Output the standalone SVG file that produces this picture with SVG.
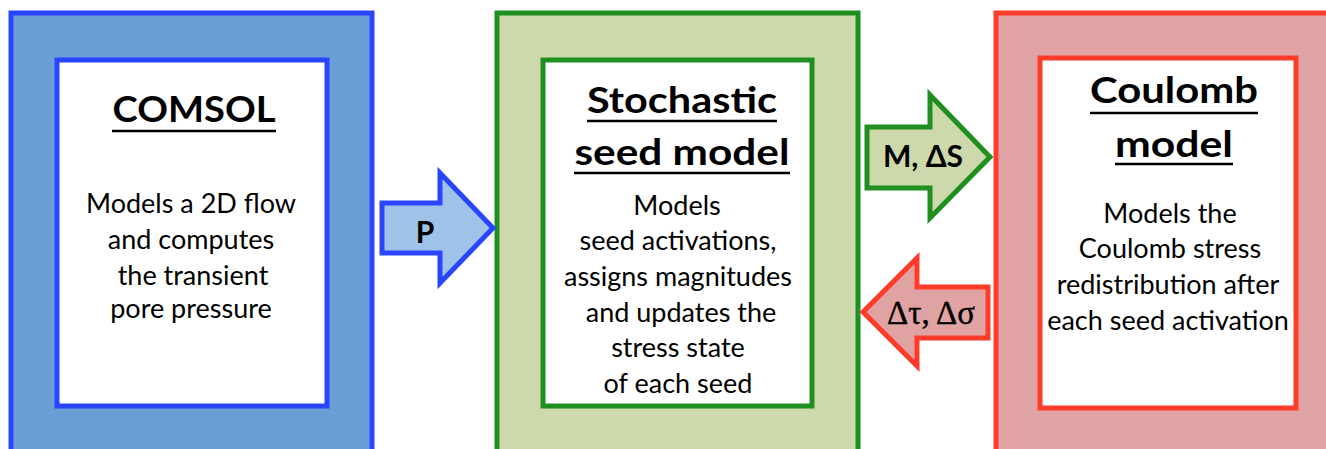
<svg xmlns="http://www.w3.org/2000/svg" width="1326" height="449" viewBox="0 0 1326 449">
<style>
.title{font-family:Lato,"Open Sans",sans-serif;font-weight:bold;font-size:37px;fill:#000;text-anchor:middle}
.body{font-family:Lato,"Open Sans",sans-serif;font-size:27px;fill:#000;text-anchor:middle}
.lbl{font-family:Lato,"Open Sans",sans-serif;font-weight:bold;font-size:30px;fill:#000;text-anchor:middle}
.greek{font-family:"Liberation Serif","DejaVu Serif",serif;font-size:33px;fill:#000;text-anchor:middle;stroke:#000;stroke-width:0.4}
.ul{stroke:#000;stroke-width:2.5}
.inner{fill:#fff;stroke-width:5}
.outer{stroke-width:5}
</style>
<rect width="1326" height="449" fill="#fff"/>
<g id="comsol">
<rect class="outer" x="11" y="13" width="361" height="450" fill="#6a9fd6" stroke="#2a45ff"/>
<rect class="inner" x="57" y="60" width="270" height="346" stroke="#2a45ff"/>
<text class="title" x="194" y="122" textLength="163" lengthAdjust="spacingAndGlyphs">COMSOL</text>
<line class="ul" x1="112" y1="131" x2="276" y2="131"/>
<text class="body" x="191" y="213">Models a 2D flow</text>
<text class="body" x="191" y="249">and computes</text>
<text class="body" x="193" y="285">the transient</text>
<text class="body" x="191" y="318">pore pressure</text>
</g>
<g id="stochastic">
<rect class="outer" x="497" y="13" width="361" height="450" fill="#cdd9ab" stroke="#1f8f1f"/>
<rect class="inner" x="543" y="60" width="269" height="346" stroke="#1f8f1f"/>
<text class="title" x="682" y="113" textLength="190" lengthAdjust="spacingAndGlyphs">Stochastic</text>
<line class="ul" x1="587" y1="121" x2="777" y2="121"/>
<text class="title" x="682" y="165" textLength="215" lengthAdjust="spacingAndGlyphs">seed model</text>
<line class="ul" x1="574" y1="173" x2="790" y2="173"/>
<text class="body" x="677" y="215">Models</text>
<text class="body" x="678" y="250">seed activations,</text>
<text class="body" x="678" y="286">assigns magnitudes</text>
<text class="body" x="681" y="322">and updates the</text>
<text class="body" x="678" y="357">stress state</text>
<text class="body" x="678" y="393">of each seed</text>
</g>
<g id="coulomb">
<rect class="outer" x="996" y="13" width="340" height="450" fill="#dfa3a3" stroke="#ff3b2a"/>
<rect class="inner" x="1040" y="58" width="256" height="350" stroke="#ff3b2a"/>
<text class="title" x="1174" y="103" textLength="168" lengthAdjust="spacingAndGlyphs">Coulomb</text>
<line class="ul" x1="1090" y1="113" x2="1258" y2="113"/>
<text class="title" x="1174" y="157" textLength="118" lengthAdjust="spacingAndGlyphs">model</text>
<line class="ul" x1="1115" y1="164" x2="1233" y2="164"/>
<text class="body" x="1170" y="223">Models the</text>
<text class="body" x="1170" y="258">Coulomb stress</text>
<text class="body" x="1168" y="294">redistribution after</text>
<text class="body" x="1168" y="330">each seed activation</text>
</g>
<g id="connectors">
<g id="arrow-p">
<polygon points="382,203 440,203 440,173 493,228 440,283 440,253 382,253" fill="#9fc3e8" stroke="#2a45ff" stroke-width="5" stroke-linejoin="miter"/>
<text class="lbl" x="425" y="243">P</text>
</g>
<g id="arrow-ms">
<polygon points="867,127 930,127 930,95 990,157 930,218 930,188 867,188" fill="#cdd9ab" stroke="#1f8f1f" stroke-width="5"/>
<text class="lbl" x="923" y="167">M, ΔS</text>
</g>
<g id="arrow-dt">
<polygon points="988,287 917,287 917,258 863,312 917,366 917,338 988,338" fill="#dfa3a3" stroke="#ff3b2a" stroke-width="5"/>
<text class="greek" x="931" y="324">Δτ, Δσ</text>
</g>
</g>
</svg>
